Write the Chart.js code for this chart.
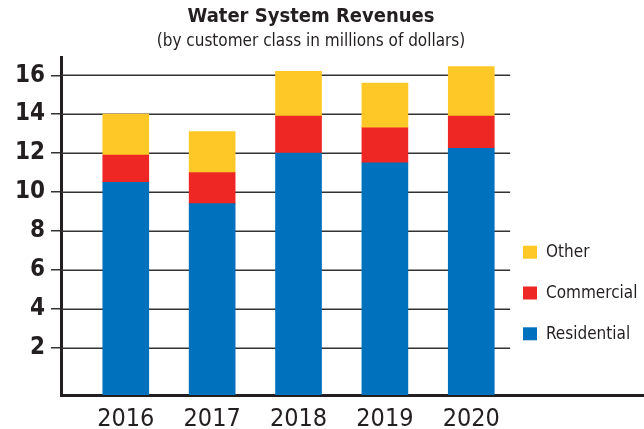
<!DOCTYPE html>
<html><head><meta charset="utf-8">
<script src="https://cdn.jsdelivr.net/npm/chart.js@4.4.0/dist/chart.umd.min.js"></script>
<style>html,body{margin:0;padding:0;background:#fff}#wrap{width:644px;height:429px;position:relative}</style>
</head><body><div id="wrap"><canvas id="c" width="644" height="429"></canvas></div>
<script>
const titleText = 'Water System Revenues';
const subtitleText = '(by customer class in millions of dollars)';
const years = [2016, 2017, 2018, 2019, 2020];
const residential = [10.5, 9.4, 12.0, 11.5, 12.25];
const commercial = [1.4, 1.6, 1.9, 1.8, 1.65];
const other = [2.1, 2.1, 2.3, 2.3, 2.55];
const yTicks = [2, 4, 6, 8, 10, 12, 14, 16];
const seriesNames = ['Residential', 'Commercial', 'Other'];
const seriesColors = ['#0071bc', '#ee2724', '#fec926'];

const Y_MIN = -0.44, Y_MAX = 16.94;
const X_MIN = 2015.25, X_MAX = 2022, GRID_END = 2020.45;
const INK = '#231f20';
const FAM = "'Liberation Sans Narrow', 'DejaVu Sans Condensed', 'Liberation Sans', sans-serif";

const resData = years.map((x, i) => ({x, y: [Y_MIN, residential[i]]}));
const comData = years.map((x, i) => ({x, y: [residential[i], residential[i] + commercial[i]]}));
const othData = years.map((x, i) => ({x, y: [residential[i] + commercial[i], residential[i] + commercial[i] + other[i]]}));

const decor = {
  id: 'decor',
  beforeDatasetsDraw(chart) {
    const {ctx, chartArea, scales: {x, y}} = chart;
    ctx.save();
    ctx.strokeStyle = '#333';
    ctx.lineWidth = 1.5;
    const xe = x.getPixelForValue(GRID_END);
    yTicks.forEach(v => {
      const py = Math.round(y.getPixelForValue(v)) + 0.25;
      ctx.beginPath();
      ctx.moveTo(chartArea.left, py);
      ctx.lineTo(xe, py);
      ctx.stroke();
    });
    ctx.restore();
  },
  afterDraw(chart) {
    const {ctx} = chart;
    ctx.save();
    ctx.fillStyle = INK;
    ctx.textAlign = 'center';
    ctx.textBaseline = 'alphabetic';
    ctx.font = "bold 20px " + FAM;
    ctx.fillText(titleText, 311, 22);
    ctx.font = "17px " + FAM;
    ctx.fillText(subtitleText, 311, 46);
    // legend
    const ys = [251.7, 292.5, 333.3];
    const order = [2, 1, 0];
    ctx.textAlign = 'left';
    ctx.textBaseline = 'middle';
    ctx.font = "17px " + FAM;
    order.forEach((di, k) => {
      const ds = chart.data.datasets[di];
      ctx.fillStyle = ds.backgroundColor;
      ctx.fillRect(523, ys[k] - 6, 14, 13);
      ctx.fillStyle = INK;
      ctx.fillText(ds.label, 546, ys[k] + 1);
    });
    ctx.restore();
  }
};

new Chart(document.getElementById('c'), {
  type: 'bar',
  data: {
    datasets: [
      {label: seriesNames[0], data: resData, backgroundColor: seriesColors[0]},
      {label: seriesNames[1], data: comData, backgroundColor: seriesColors[1]},
      {label: seriesNames[2], data: othData, backgroundColor: seriesColors[2]}
    ].map(d => Object.assign(d, {grouped: false, barThickness: 46, borderWidth: 0}))
  },
  options: {
    responsive: false,
    animation: false,
    layout: {padding: {top: 57, left: 0, right: 0, bottom: 0}},
    plugins: {legend: {display: false}, title: {display: false}, tooltip: {enabled: false}},
    scales: {
      x: {
        type: 'linear', min: X_MIN, max: X_MAX, offset: false,
        grid: {display: false, drawTicks: false},
        border: {display: true, width: 3, color: INK},
        ticks: {callback: v => String(v), font: {family: FAM, size: 25}, color: INK, padding: 9, maxRotation: 0, autoSkip: false},
        afterBuildTicks: s => { s.ticks = years.map(v => ({value: v})); },
        afterFit: s => { s.height = 34; }
      },
      y: {
        min: Y_MIN, max: Y_MAX,
        grid: {drawOnChartArea: false, tickLength: 10, color: '#333', lineWidth: 1.5},
        border: {display: true, width: 3, color: INK},
        ticks: {font: {family: FAM, size: 24, weight: 'bold'}, color: INK, padding: 6, autoSkip: false},
        afterBuildTicks: s => { s.ticks = yTicks.map(v => ({value: v})); },
        afterFit: s => { s.width = 61; }
      }
    }
  },
  plugins: [decor]
});
</script>
</body></html>
